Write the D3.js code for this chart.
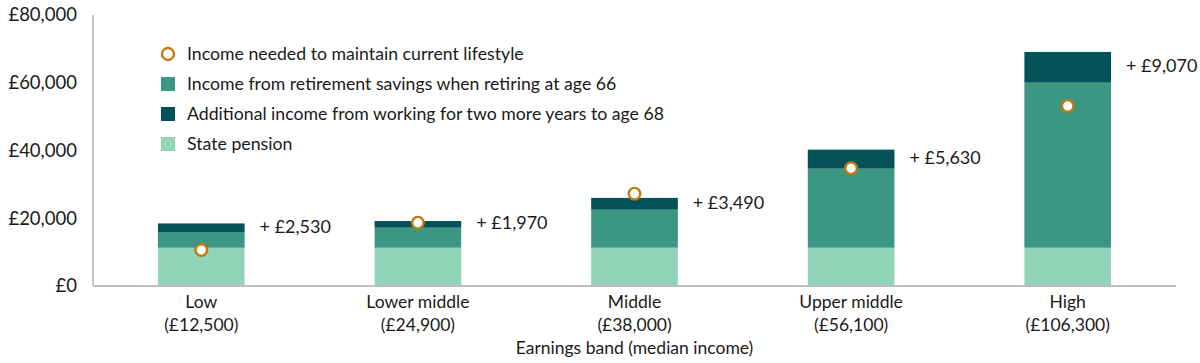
<!DOCTYPE html>
<html>
<head>
<meta charset="utf-8">
<script src="https://cdn.jsdelivr.net/npm/d3@7"></script>
<style>
  body { margin: 0; background: #fff; }
  svg { display: block; font-family: Lato, "Open Sans", sans-serif; }
</style>
</head>
<body>
<div id="chart"></div>
<script>
var bands = ['Low', 'Lower middle', 'Middle', 'Upper middle', 'High'];
var medianIncome = ['(£12,500)', '(£24,900)', '(£38,000)', '(£56,100)', '(£106,300)'];
var statePension = [11300, 11300, 11300, 11300, 11300];
var savingsAt66 = [4640, 5910, 11220, 23330, 48720];
var extraTo68 = [2530, 1970, 3490, 5630, 9070];
var incomeNeeded = [10600, 18700, 27250, 34750, 53150];
var yTicks = [0, 20000, 40000, 60000, 80000];

var legendItems = [
    { label: 'Income needed to maintain current lifestyle', type: 'dot', color: '#c27a10' },
    { label: 'Income from retirement savings when retiring at age 66', type: 'sq', color: '#3b9682' },
    { label: 'Additional income from working for two more years to age 68', type: 'sq', color: '#03525a' },
    { label: 'State pension', type: 'sq', color: '#92d4ba' }
];

var width = 1200,
    height = 363,
    plotLeft = 93,
    plotRight = 1176,
    plotTop = 15,
    plotBottom = 286;

var svg = d3.select('#chart').append('svg')
    .attr('width', width)
    .attr('height', height);

var x = d3.scaleBand()
    .domain(bands)
    .range([plotLeft, plotRight])
    .paddingInner(0.6)
    .paddingOuter(0.3);

var y = d3.scaleLinear()
    .domain([0, 80000])
    .range([plotBottom, plotTop]);

var fmt = d3.format(',');

// stacked layers
var rows = bands.map(function(b, i) {
    return { band: b, state: statePension[i], savings: savingsAt66[i], extra: extraTo68[i] };
});
var stack = d3.stack().keys(['state', 'savings', 'extra']);
var layers = stack(rows);
var colors = { state: '#92d4ba', savings: '#3b9682', extra: '#03525a' };

svg.append('g').selectAll('g')
    .data(layers)
    .enter().append('g')
    .attr('fill', function(d) { return colors[d.key]; })
    .selectAll('rect')
    .data(function(d) { return d; })
    .enter().append('rect')
    .attr('x', function(d) { return x(d.data.band); })
    .attr('width', x.bandwidth())
    .attr('y', function(d) { return y(d[1]); })
    .attr('height', function(d) { return y(d[0]) - y(d[1]); });

// y axis line
svg.append('line')
    .attr('x1', plotLeft).attr('x2', plotLeft)
    .attr('y1', y(80000)).attr('y2', plotBottom)
    .attr('stroke', '#8c8c8c')
    .attr('stroke-width', 1);

// baseline
svg.append('line')
    .attr('x1', plotLeft).attr('x2', plotRight)
    .attr('y1', plotBottom).attr('y2', plotBottom)
    .attr('stroke', '#bdbdbd')
    .attr('stroke-width', 2);

// y tick labels
svg.append('g').selectAll('text')
    .data(yTicks)
    .enter().append('text')
    .attr('x', plotLeft - 16)
    .attr('y', function(d) { return y(d); })
    .attr('dy', '0.35em')
    .attr('text-anchor', 'end')
    .attr('font-size', 18.5)
    .attr('fill', '#1a1a1a')
    .text(function(d) { return '£' + fmt(d); });

// labels for the extra-years segment
var extraLayer = layers[2];
svg.append('g').selectAll('text')
    .data(extraLayer)
    .enter().append('text')
    .attr('x', function(d) { return x(d.data.band) + x.bandwidth() + 15; })
    .attr('y', function(d) { return (y(d[0]) + y(d[1])) / 2 - 1.5; })
    .attr('dy', '0.35em')
    .attr('font-size', 18)
    .attr('fill', '#1a1a1a')
    .text(function(d) { return '+ £' + fmt(d.data.extra); });

// income needed dots
svg.append('g').selectAll('circle')
    .data(incomeNeeded)
    .enter().append('circle')
    .attr('cx', function(d, i) { return x(bands[i]) + x.bandwidth() / 2; })
    .attr('cy', function(d) { return y(d); })
    .attr('r', 5.8)
    .attr('fill', '#fff')
    .attr('stroke', '#c27a10')
    .attr('stroke-width', 2.4);

// x labels
var xl = svg.append('g').selectAll('text')
    .data(bands)
    .enter().append('text')
    .attr('text-anchor', 'middle')
    .attr('font-size', 17.5)
    .attr('fill', '#1a1a1a')
    .attr('x', function(d) { return x(d) + x.bandwidth() / 2; })
    .attr('y', 308);
xl.append('tspan').text(function(d) { return d; });
xl.append('tspan')
    .attr('x', function(d) { return x(d) + x.bandwidth() / 2; })
    .attr('dy', 23)
    .text(function(d, i) { return medianIncome[i]; });

svg.append('text')
    .attr('x', x('Middle') + x.bandwidth() / 2)
    .attr('y', 354)
    .attr('text-anchor', 'middle')
    .attr('font-size', 17.5)
    .attr('fill', '#1a1a1a')
    .text('Earnings band (median income)');

// legend
var legend = svg.append('g').selectAll('g')
    .data(legendItems)
    .enter().append('g')
    .attr('transform', function(d, i) { return 'translate(168,' + (54 + i * 30) + ')'; });

legend.filter(function(d) { return d.type === 'dot'; })
    .append('circle')
    .attr('r', 6)
    .attr('fill', '#fff')
    .attr('stroke', function(d) { return d.color; })
    .attr('stroke-width', 2.4);

legend.filter(function(d) { return d.type === 'sq'; })
    .append('rect')
    .attr('x', -7).attr('y', -7)
    .attr('width', 14).attr('height', 14)
    .attr('fill', function(d) { return d.color; });

legend.append('text')
    .attr('x', 19)
    .attr('dy', '0.35em')
    .attr('font-size', 17.7)
    .attr('fill', '#1a1a1a')
    .text(function(d) { return d.label; });
</script>
</body>
</html>
